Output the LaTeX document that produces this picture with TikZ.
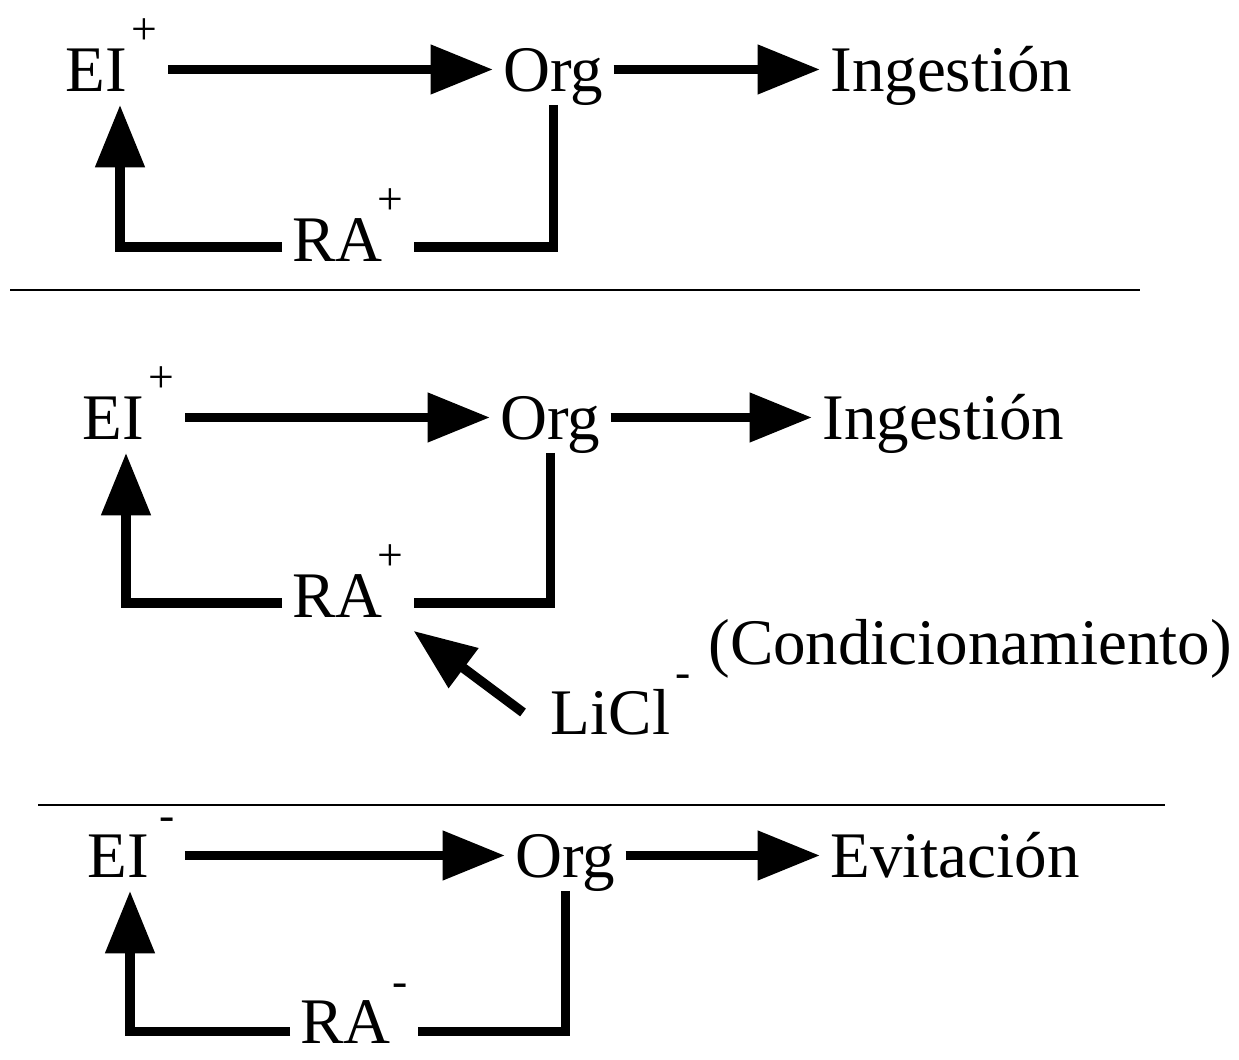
\documentclass[tikz,border=0pt]{standalone}
\usepackage{fontspec}
\setmainfont{Liberation Serif}
\usepackage{tikz}
\usetikzlibrary{arrows.meta}
\newcommand{\sgn}[2][3pt]{\kern#1\raisebox{0.95cm}{\fontsize{26}{26}\selectfont#2}}

\begin{document}
\begin{tikzpicture}[font=\fontsize{37}{40}\selectfont,
  term/.style={anchor=base west, inner xsep=0.2cm, inner ysep=0.25cm, text height=0.9cm, text depth=0pt},
  resp/.style={term, text height=0.6cm},
  arr/.style={-{Triangle[length=1.25cm,width=0.95cm]}, line width=5.5pt},
  fb/.style={line width=5.5pt},
  sep/.style={line width=1.2pt}]
\useasboundingbox (0,0) rectangle (24.78,21.2);

% ingestion
\node[term] (ei1) at (1.1,19.36) {EI\sgn{+}};
\node[term] (org1) at (9.86,19.36) {Org};
\node[term] (ing1) at (16.4,19.36) {Ingestión};
\node[resp] (ra1) at (5.64,15.96) {RA\sgn[-3pt]{+}};
\draw[arr] (ei1) -- (org1);
\draw[arr] (org1) -- (ing1);
\draw[fb] (org1.south) |- (ra1.east);
\draw[arr] (ra1.west) -| ([xshift=1.3cm]ei1.south west);

\draw[sep] (0.2,15.4) -- (22.8,15.4);

% conditioning
\node[term] (ei2) at (1.44,12.4) {EI\sgn{+}};
\node[term] (org2) at (9.8,12.4) {Org};
\node[term] (ing2) at (16.24,12.4) {Ingestión};
\node[resp] (ra2) at (5.64,8.84) {RA\sgn[-3pt]{+}};
\node[term, inner xsep=0.55cm] (licl) at (10.46,6.5) {LiCl\sgn{-}};
\node[term] (cond) at (13.96,7.9) {(Condicionamiento)};
\draw[arr] (ei2) -- (org2);
\draw[arr] (org2) -- (ing2);
\draw[fb] (org2.south) |- (ra2.east);
\draw[arr] (ra2.west) -| ([xshift=1.08cm]ei2.south west);
\draw[arr] (licl.west) -- (ra2.south east);

\draw[sep] (0.76,5.1) -- (23.3,5.1);

% avoidance
\node[term] (ei3) at (1.54,3.64) {EI\sgn[6pt]{-}};
\node[term] (org3) at (10.1,3.64) {Org};
\node[term] (evi) at (16.4,3.64) {Evitación};
\node[resp, text height=0.5cm] (ra3) at (5.8,0.32) {RA\sgn[1pt]{-}};
\draw[arr] (ei3) -- (org3);
\draw[arr] (org3) -- (evi);
\draw[fb] (org3.south) |- (ra3.east);
\draw[arr] (ra3.west) -| ([xshift=1.06cm]ei3.south west);
\end{tikzpicture}
\end{document}
